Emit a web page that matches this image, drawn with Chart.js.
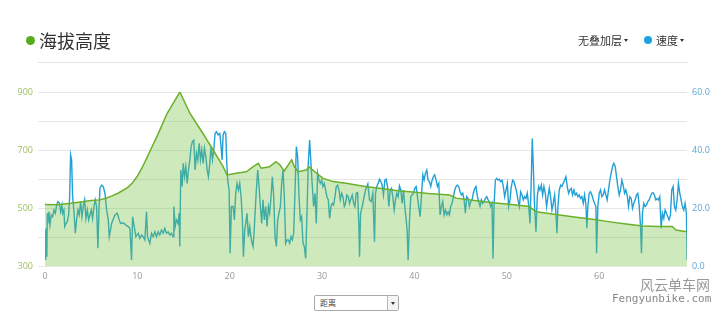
<!DOCTYPE html>
<html><head><meta charset="utf-8">
<script src="https://cdn.jsdelivr.net/npm/chart.js@4"></script>
<style>
body{margin:0;width:720px;height:320px;overflow:hidden;background:#fff;position:relative;font-family:"Noto Sans CJK SC","Noto Sans",sans-serif}
#c{position:absolute;left:0;top:0}
.abs{position:absolute;white-space:nowrap}
.dot{position:absolute;border-radius:50%}
.tri{position:absolute;width:0;height:0;border-left:2px solid transparent;border-right:2px solid transparent;border-top:3px solid #333}
</style></head><body>
<canvas id="c" width="720" height="320"></canvas>
<div class="dot" style="left:26px;top:36px;width:9px;height:9px;background:#5aab1e"></div>
<div class="abs" style="left:39px;top:28px;font-size:18px;line-height:24px;color:#333">海拔高度</div>
<div class="abs" style="left:38px;top:62px;width:650px;height:1px;background:#e2e2e2"></div>
<div class="abs" style="left:578px;top:32px;font-size:11px;line-height:16px;color:#333">无叠加层</div>
<div class="tri" style="left:624px;top:39px"></div>
<div class="dot" style="left:644px;top:36px;width:8px;height:8px;background:#1fa0e0"></div>
<div class="abs" style="left:656px;top:32px;font-size:11px;line-height:16px;color:#333">速度</div>
<div class="tri" style="left:680px;top:39px"></div>
<div class="abs" style="left:314px;top:295px;width:83px;height:14px;border:1px solid #aaa;border-radius:2px;background:#fff">
  <span class="abs" style="left:5px;top:1px;font-size:8px;line-height:12px;color:#444">距离</span>
  <span class="abs" style="right:0;top:0;width:10px;height:14px;border-left:1px solid #bbb;background:#f4f4f4"></span>
  <span class="tri" style="right:3px;top:6px"></span>
</div>
<div class="abs" style="left:640px;top:276px;font-size:14px;line-height:16px;color:#999">风云单车网</div>
<div class="abs" style="left:612px;top:292px;font-family:'DejaVu Sans Mono',monospace;font-size:11px;line-height:13px;color:#888">Fengyunbike.com</div>
<script>
const elevKm = [0, 1.4, 2.8, 3.9, 5.0, 5.9, 6.5, 7.2, 7.9, 8.5, 9.0, 9.5, 10.0, 10.5, 11.1, 11.6, 12.2, 13.2, 14.0, 14.6, 15.7, 17.1, 18.2, 19.3, 19.7, 20.7, 21.8, 22.5, 23.1, 23.4, 24.3, 25.0, 25.4, 25.9, 26.7, 27.0, 27.4, 28.3, 28.6, 29.2, 30.1, 31.2, 32.6, 34.8, 36.2, 38.4, 39.5, 41.5, 43.8, 44.2, 44.5, 46.5, 48.5, 50.5, 52.4, 53.2, 55.7, 57.5, 59.3, 61.0, 62.9, 64.7, 66.5, 67.9, 68.3, 69.5];
const elevM = [512, 511, 516, 521, 526, 528, 533, 541, 551, 562, 572, 588, 610, 638, 678, 712, 752, 825, 868, 900, 826, 757, 700, 642, 614, 620, 625, 642, 654, 637, 642, 660, 650, 628, 666, 642, 625, 631, 642, 625, 602, 591, 585, 573, 568, 559, 556, 550, 545, 539, 534, 526, 518, 512, 505, 487, 476, 468, 461, 453, 445, 438, 436, 436, 424, 418];

const speedKm = [0.00,0.05,0.10,0.15,0.20,0.25,0.32,0.43,0.54,0.68,0.83,0.97,1.12,1.26,1.40,1.55,1.69,1.84,1.91,2.05,2.13,2.27,2.41,2.56,2.67,2.77,2.88,2.99,3.14,3.28,3.42,3.57,3.71,3.86,4.00,4.14,4.29,4.43,4.58,4.72,4.86,5.01,5.15,5.30,5.44,5.58,5.73,5.84,5.95,
6.13,6.31,6.49,6.67,6.85,6.96,7.21,7.57,7.82,8.04,8.18,8.47,8.76,9.01,9.19,9.37,9.48,9.66,9.84,10.09,10.27,10.45,10.63,10.81,10.99,11.10,11.35,11.53,11.71,11.89,12.07,12.25,12.43,12.61,12.79,12.97,13.15,13.33,13.51,13.69,13.87,13.95,14.09,14.23,14.41,14.52,14.59,14.70,14.85,14.96,15.10,15.24,15.39,15.53,15.68,15.82,15.96,16.11,16.25,16.40,16.54,16.69,16.83,16.97,17.12,17.26,17.41,17.55,17.69,17.84,17.98,18.13,18.27,18.41,18.56,18.74,18.92,19.06,19.17,19.28,19.42,19.57,19.68,19.78,19.93,20.04,20.18,20.36,20.50,20.65,20.79,20.94,21.08,21.23,21.37,21.48,21.62,21.73,21.87,22.02,22.16,22.34,22.52,22.63,22.74,22.88,23.03,23.17,23.32,23.46,23.60,23.75,23.89,24.04,24.18,24.32,24.47,24.61,24.76,24.90,25.05,25.19,25.33,25.48,25.62,25.77,25.91,26.05,26.20,26.34,26.49,26.63,26.78,26.92,27.06,27.21,27.35,27.50,27.64,27.78,27.93,28.07,28.22,28.36,28.50,28.65,28.79,28.94,29.08,29.23,29.37,29.51,29.66,29.80,29.95,30.09,30.23,30.38,30.52,30.67,30.81,30.96,31.10,31.24,31.39,31.53,31.68,31.82,31.96,32.11,32.25,32.40,32.54,32.68,32.83,32.97,33.12,33.26,33.41,33.55,33.69,33.84,33.98,
34.05,34.16,34.34,34.48,34.70,34.95,35.13,35.31,35.49,35.67,35.78,35.92,36.07,36.21,36.36,36.50,36.64,36.79,36.93,37.08,37.22,37.37,37.51,37.65,37.80,37.94,38.09,38.23,38.37,38.52,38.66,38.81,38.95,39.10,39.20,39.31,39.46,39.60,39.74,39.89,40.03,40.18,40.32,40.46,40.61,40.75,40.90,41.04,41.19,41.33,41.47,41.62,41.76,41.91,42.05,42.19,42.34,42.48,42.63,42.77,42.91,43.06,43.20,43.35,43.49,43.64,43.78,43.92,44.07,44.21,44.36,44.50,44.64,44.79,44.93,45.08,45.22,45.37,45.51,45.65,45.80,45.94,46.09,46.23,46.37,46.52,46.66,46.81,46.95,47.10,47.24,47.38,47.53,47.67,47.82,47.96,48.10,48.25,48.39,48.50,48.61,48.75,48.90,49.04,49.18,49.33,49.47,49.62,49.76,49.91,50.05,50.19,50.34,50.48,50.63,50.77,50.91,51.06,51.20,51.35,51.49,51.64,51.78,51.92,52.07,52.21,52.36,52.50,52.64,52.75,52.86,53.00,53.15,53.29,53.44,53.58,53.73,53.87,54.01,54.16,54.30,54.45,54.59,54.73,54.88,55.02,55.17,55.31,55.42,55.53,55.67,55.82,55.96,56.10,56.25,56.39,56.54,56.68,56.82,56.97,57.11,57.26,57.40,57.55,57.69,57.83,57.98,58.12,58.27,58.41,58.56,58.66,58.77,58.91,59.06,59.20,59.35,59.49,59.64,59.71,59.85,60.00,60.14,60.28,60.43,60.57,60.72,60.86,61.00,61.15,61.29,61.44,61.58,61.73,61.87,62.01,62.16,62.30,62.45,62.59,62.74,62.88,63.02,63.17,63.31,63.46,63.60,63.74,63.89,64.03,64.18,64.32,64.47,64.57,64.68,64.82,64.97,65.11,65.26,65.40,65.54,65.69,65.83,65.98,66.12,66.27,66.41,66.55,66.70,66.84,66.99,67.13,67.28,67.42,67.56,67.71,67.85,68.00,68.14,68.28,68.43,68.57,68.72,68.86,69.00,69.15,69.29,69.44,69.51];
const speedKmh = [12.4,2.1,11.3,13.0,3.2,18.2,14.7,18.7,14.1,17.6,17.0,19.3,18.2,21.0,22.2,21.8,18.7,21.0,18.2,19.3,13.6,14.7,15.3,17.6,23.9,38.3,36.6,23.9,18.7,11.3,15.9,19.3,17.6,22.2,17.0,20.5,22.8,16.4,19.3,15.9,17.6,19.3,16.4,20.5,22.8,20.5,6.1,19.3,26.8,
27.9,27.4,25.1,19.3,15.9,10.1,14.7,17.6,18.2,15.9,14.7,14.9,14.1,13.6,13.0,2.1,17.0,13.6,10.1,11.3,9.5,10.7,10.1,9.0,18.7,10.1,7.8,11.3,10.1,11.8,10.1,11.8,10.7,12.4,11.3,13.0,11.3,11.8,10.7,11.3,10.1,20.5,13.6,15.9,14.7,18.2,6.7,33.1,27.4,35.4,30.8,34.3,28.5,33.1,36.6,41.2,42.9,43.4,33.1,38.9,36.6,42.3,36.6,40.0,35.4,40.6,37.7,33.1,30.8,35.4,41.2,36.6,40.0,45.7,46.3,45.2,45.7,41.2,36.6,45.2,46.3,45.7,35.4,29.6,26.2,4.4,20.5,20.5,15.9,25.1,28.5,26.2,28.5,23.9,15.9,3.2,12.4,14.7,18.2,10.1,13.6,9.0,6.7,11.3,18.2,26.2,33.1,27.4,20.5,14.7,22.8,15.9,20.5,13.6,20.5,18.2,23.9,30.8,23.9,10.1,6.7,15.9,18.2,20.5,28.5,33.1,23.9,7.8,9.0,9.0,7.8,10.1,9.0,11.3,25.1,41.2,37.7,23.9,15.9,17.0,7.8,6.7,2.6,18.2,35.4,43.4,35.4,27.4,20.5,25.1,14.7,32.0,29.6,28.5,29.6,27.4,28.5,26.2,23.9,22.8,16.4,20.5,21.6,21.0,23.9,27.4,27.9,26.2,22.8,25.1,23.9,20.5,21.6,24.5,23.9,21.6,23.3,24.5,21.6,20.5,25.1,25.3,13.6,
3.2,18.2,20.5,22.8,26.2,28.3,22.8,22.2,25.1,8.4,25.1,27.4,28.5,29.9,29.1,27.9,24.5,29.6,29.9,27.4,20.5,26.2,26.8,23.9,19.3,22.8,25.1,23.9,27.6,26.2,21.6,26.2,20.5,15.9,12.4,2.1,15.9,23.9,24.5,25.1,26.8,27.4,23.9,20.5,17.0,23.9,31.4,29.6,32.0,33.1,29.6,29.1,27.4,29.6,30.8,31.4,29.6,27.4,28.5,17.6,20.5,22.2,17.6,19.3,17.6,18.7,17.6,20.5,21.6,23.9,26.2,27.4,27.9,27.4,25.6,24.5,25.1,22.8,18.2,23.9,23.3,20.5,22.2,22.8,25.1,26.8,27.4,23.9,22.2,20.5,22.8,21.6,22.2,23.3,23.9,22.8,22.2,20.5,21.6,2.6,20.5,29.6,30.2,29.6,29.9,29.1,29.6,27.4,23.9,26.2,28.5,20.5,22.8,27.4,29.6,29.1,27.4,25.6,22.8,20.5,25.6,24.5,22.8,23.9,23.3,25.1,21.0,14.7,29.6,44.0,34.2,20.5,11.8,23.9,27.4,26.2,27.9,24.5,27.4,25.1,20.5,23.9,26.8,23.9,19.3,21.6,24.5,18.2,11.3,20.5,26.2,27.9,27.4,28.5,29.6,30.8,27.4,25.1,26.2,26.8,24.5,26.2,24.5,25.1,23.9,24.5,23.3,23.9,21.6,24.5,21.0,13.0,20.5,25.1,25.6,24.5,22.8,21.6,20.5,4.4,20.5,25.1,26.2,23.9,24.5,26.2,24.5,22.8,26.2,29.6,32.0,34.3,35.4,34.3,30.8,27.4,24.5,26.2,29.6,27.9,25.1,26.2,24.5,20.5,23.9,23.3,19.9,21.6,22.8,24.5,25.1,21.0,13.6,4.4,18.2,21.6,20.5,21.0,22.2,22.8,23.9,25.1,25.3,24.5,22.8,23.3,22.8,23.9,13.0,18.2,16.4,19.3,18.2,17.0,15.9,17.6,26.2,27.4,20.5,19.3,22.8,28.5,25.1,22.8,20.5,19.3,21.6,18.2,2.1];

const xTicks = [0, 10, 20, 30, 40, 50, 60];
const elevTicks = [300, 500, 700, 900];
const speedTicks = [0, 20, 40, 60];

const elevData = elevKm.map((k, i) => ({x: k, y: elevM[i]}));
const speedData = speedKm.map((k, i) => ({x: k, y: speedKmh[i]}));

new Chart(document.getElementById('c'), {
  type: 'line',
  data: {
    datasets: [
      {
        label: '海拔高度', data: elevData, yAxisID: 'yE',
        borderColor: '#6bb02a', borderWidth: 1.5, backgroundColor: 'rgba(120,195,70,0.36)',
        fill: 'start', pointRadius: 0, tension: 0
      },
      {
        label: '速度', data: speedData, yAxisID: 'yS',
        borderColor: '#22a0d6', borderWidth: 1.4, fill: false, pointRadius: 0, tension: 0
      }
    ]
  },
  options: {
    responsive: false, animation: false, devicePixelRatio: 1,
    layout: {padding: {top: 92, left: 0, right: 0, bottom: 0}},
    plugins: {legend: {display: false}, tooltip: {enabled: false}},
    scales: {
      x: {
        type: 'linear', min: 0, max: 69.5,
        ticks: {stepSize: 10, includeBounds: false, color: '#999', font: {size: 9, family: 'Open Sans'}, padding: 5,
          callback: v => xTicks.includes(v) ? String(v) : ''},
        grid: {display: false, drawTicks: false}, border: {display: false},
        afterFit: s => { s.height = 54; }
      },
      yE: {
        position: 'left', min: 300, max: 900,
        ticks: {stepSize: 100, color: '#9dbf5e', font: {size: 9, family: 'Open Sans'}, padding: 5,
          callback: v => elevTicks.includes(v) ? String(v) : ''},
        grid: {color: '#e6e6e6', tickLength: 7, tickColor: '#e6e6e6'}, border: {display: false},
        afterFit: s => { s.width = 45; }
      },
      yS: {
        position: 'right', min: 0, max: 60,
        ticks: {stepSize: 10, color: '#5ba6d3', font: {size: 9, family: 'Open Sans'}, padding: 5,
          callback: v => speedTicks.includes(v) ? v.toFixed(1) : ''},
        grid: {drawOnChartArea: false, drawTicks: false}, border: {display: false},
        afterFit: s => { s.width = 33; }
      }
    }
  }
});
</script>
</body></html>
